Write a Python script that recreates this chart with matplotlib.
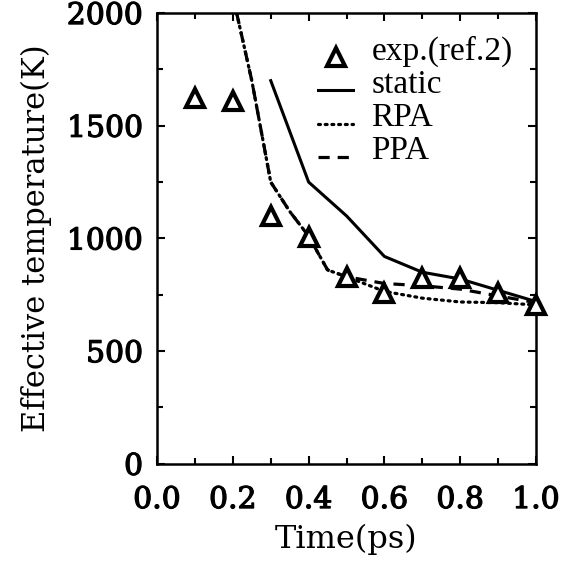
import matplotlib
matplotlib.use("Agg")
import matplotlib.pyplot as plt
import matplotlib.patheffects as pe
from matplotlib.ticker import MultipleLocator

# experimental data (triangles)
exp_t = [0.1, 0.2, 0.3, 0.4, 0.5, 0.6, 0.7, 0.8, 0.9, 1.0]
exp_T = [1625, 1610, 1100, 1005, 830, 760, 825, 825, 760, 705]

# static
static_t = [0.3, 0.4, 0.5, 0.6, 0.7, 0.8, 0.9, 1.0]
static_T = [1700, 1250, 1100, 920, 850, 820, 770, 720]

# RPA (dotted)
rpa_t = [0.21, 0.25, 0.3, 0.35, 0.4, 0.45, 0.5, 0.6, 0.7, 0.8, 0.9, 1.0]
rpa_T = [2000, 1700, 1250, 1120, 1010, 860, 830, 765, 735, 718, 715, 705]

# PPA (dashed)
ppa_t = [0.21, 0.25, 0.3, 0.35, 0.4, 0.45, 0.5, 0.6, 0.7, 0.8, 0.9, 1.0]
ppa_T = [2000, 1700, 1250, 1120, 1010, 860, 830, 800, 790, 775, 745, 715]

xticks = [0.0, 0.2, 0.4, 0.6, 0.8, 1.0]
xticklabels = ["0.0", "0.2", "0.4", "0.6", "0.8", "1.0"]
yticks = [0, 500, 1000, 1500, 2000]
yticklabels = ["0", "500", "1000", "1500", "2000"]

fig = plt.figure(figsize=(5.63, 5.67), dpi=100)
ax = fig.add_axes([0.279, 0.182, 0.673, 0.795])

ax.plot(rpa_t, rpa_T, color="black", lw=2.3, linestyle=(0, (0.6, 1.5)),
        dash_capstyle="round", label="RPA")
ax.plot(ppa_t, ppa_T, color="black", lw=2.3, linestyle=(0, (3.5, 2.5)), label="PPA")
ax.plot(static_t, static_T, color="black", lw=2.2, linestyle="-", label="static")
ax.plot(exp_t, exp_T, linestyle="none", marker="^", markersize=12.5,
        markerfacecolor="white", markeredgecolor="black", markeredgewidth=3.0,
        label="exp.(ref.2)", clip_on=False, zorder=5)

ax.set_xlim(0.0, 1.0)
ax.set_ylim(0, 2000)
ax.xaxis.set_minor_locator(MultipleLocator(0.1))
ax.yaxis.set_minor_locator(MultipleLocator(250))
ax.set_xticks(xticks)
ax.set_xticklabels(xticklabels)
ax.set_yticks(yticks)
ax.set_yticklabels(yticklabels)
ax.tick_params(which="both", direction="in", top=True, right=True, width=1.5)
ax.tick_params(which="major", length=6)
ax.tick_params(which="minor", length=4)
ax.tick_params(axis="x", which="major", pad=16)
ax.tick_params(axis="y", which="major", pad=10)
for s in ax.spines.values():
    s.set_linewidth(1.8)

stroke = [pe.withStroke(linewidth=0.9, foreground="black")]
for lab in ax.get_xticklabels() + ax.get_yticklabels():
    lab.set_fontfamily("DejaVu Serif")
    lab.set_fontsize(21.5)
    lab.set_path_effects(stroke)

ax.set_xlabel("Time(ps)", fontfamily="DejaVu Serif", fontsize=23, labelpad=7)
ax.set_ylabel("Effective temperature(K)", fontfamily="DejaVu Serif", fontsize=22, labelpad=11)

handles, labels = ax.get_legend_handles_labels()
order = [3, 2, 0, 1]
leg = ax.legend([handles[i] for i in order], [labels[i] for i in order],
                loc="upper left", frameon=False, handlelength=1.05,
                handletextpad=0.55, labelspacing=0.08, borderpad=0.0,
                prop={"family": "Liberation Serif", "size": 24},
                bbox_to_anchor=(0.425, 0.93), borderaxespad=0.0)
for t in leg.get_texts():
    t.set_position((0, 9))

fig.savefig("out.png", dpi=100)
